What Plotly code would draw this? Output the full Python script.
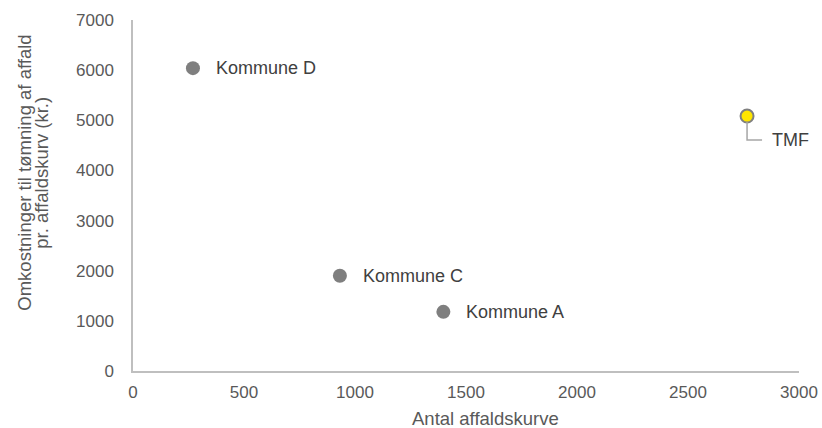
import plotly.graph_objects as go

names = ["Kommune D", "Kommune C", "Kommune A"]
antal = [270, 932, 1398]
omkost = [6040, 1900, 1180]

tmf_name = ["TMF"]
tmf_antal = [2766]
tmf_omkost = [5085]

x_ticks = [0, 500, 1000, 1500, 2000, 2500, 3000]
y_ticks = [0, 1000, 2000, 3000, 4000, 5000, 6000, 7000]

x_title = "Antal affaldskurve"
y_title_lines = ["Omkostninger til tømning af affald", "pr. affaldskurv (kr.)"]

FONT = "Liberation Sans, Arial, sans-serif"
fig = go.Figure()
fig.add_trace(go.Scatter(x=antal, y=omkost, mode="markers",
                         marker=dict(size=14, color="#7f7f7f"),
                         hoverinfo="skip", showlegend=False))
fig.add_trace(go.Scatter(x=tmf_antal, y=tmf_omkost, mode="markers",
                         marker=dict(size=13, color="#ffe600",
                                     line=dict(color="#7f7f7f", width=2)),
                         hoverinfo="skip", showlegend=False))

annotations = []
for n, xv, yv in zip(names, antal, omkost):
    annotations.append(dict(x=xv, y=yv, xref="x", yref="y", text=n,
                            showarrow=False, xanchor="left", yanchor="middle",
                            xshift=21, font=dict(size=18, color="#404040", family=FONT)))
for n, xv, yv in zip(tmf_name, tmf_antal, tmf_omkost):
    annotations.append(dict(x=xv, y=yv, xref="x", yref="y", text=n,
                            showarrow=False, xanchor="left", yanchor="middle",
                            xshift=23, yshift=-24, font=dict(size=18, color="#404040", family=FONT)))

# axis titles
annotations.append(dict(x=0.529, y=0, xref="paper", yref="paper", text=x_title,
                        showarrow=False, xanchor="center", yanchor="middle",
                        yshift=-47, font=dict(size=18.5, color="#595959", family=FONT)))
for i, line in enumerate(y_title_lines):
    annotations.append(dict(x=0, y=0.565, xref="paper", yref="paper", text=line,
                            showarrow=False, xanchor="center", yanchor="middle",
                            textangle=-90, xshift=-108 + 17 * i,
                            font=dict(size=18.5, color="#595959", family=FONT)))

shapes = []
for xv, yv in zip(tmf_antal, tmf_omkost):
    shapes.append(dict(type="path", xref="x", yref="y",
                       xsizemode="pixel", ysizemode="pixel",
                       xanchor=xv, yanchor=yv,
                       path="M 0,-6 L 0,-24 L 15,-24",
                       line=dict(color="#a6a6a6", width=1.5)))

fig.update_layout(
    width=822, height=428,
    margin=dict(l=133, r=23, t=20, b=57),
    paper_bgcolor="white", plot_bgcolor="white",
    font=dict(family=FONT, size=17, color="#595959"),
    annotations=annotations, shapes=shapes,
    xaxis=dict(range=[0, 3000], tickvals=x_ticks, showgrid=False, zeroline=False,
               showline=True, linecolor="#bfbfbf", linewidth=1.5, ticks="",
               ticklabelstandoff=5, automargin=False,
               tickfont=dict(size=17, color="#595959")),
    yaxis=dict(range=[0, 7000], tickvals=y_ticks, showgrid=False, zeroline=False,
               showline=True, linecolor="#bfbfbf", linewidth=1.5, ticks="",
               ticklabelstandoff=14, automargin=False,
               tickfont=dict(size=17, color="#595959")),
)
fig.write_html("out.html", config={"displayModeBar": False},
               post_script="document.body.style.margin='0';document.body.style.overflow='hidden';")
